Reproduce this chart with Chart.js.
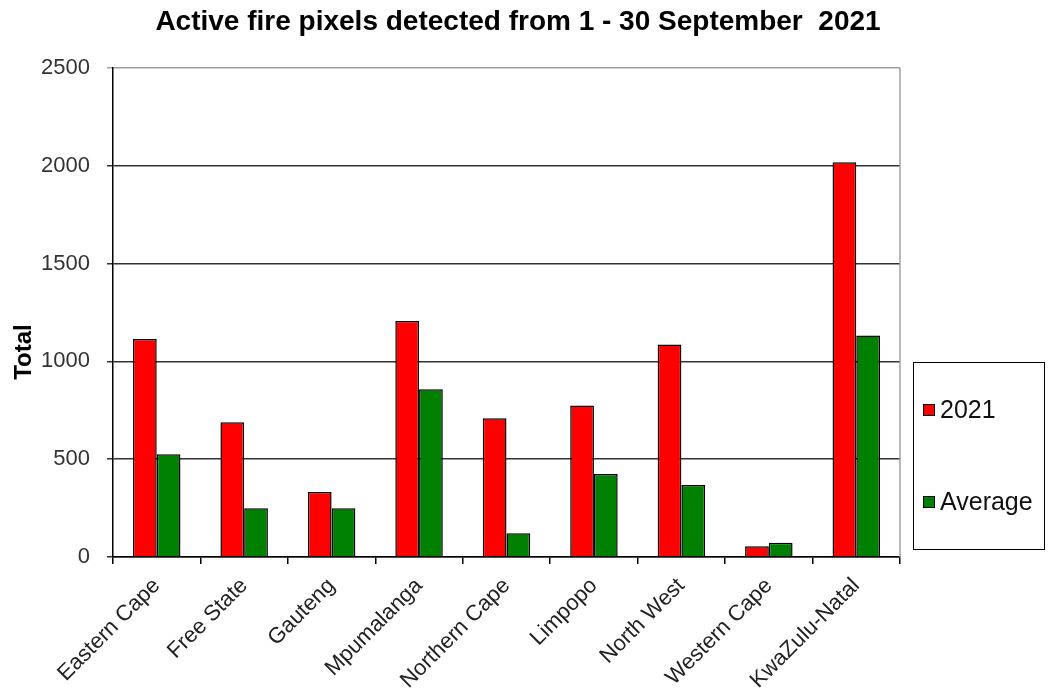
<!DOCTYPE html>
<html>
<head>
<meta charset="utf-8">
<script src="https://cdn.jsdelivr.net/npm/chart.js@4"></script>
<style>
    body { margin: 0; background: #fff; }
    #wrap { width: 1049px; height: 700px; }
</style>
</head>
<body>
<div id="wrap"><canvas id="bar-chart" width="1049" height="700"></canvas></div>
<script>
var provinces = ['Eastern Cape', 'Free State', 'Gauteng', 'Mpumalanga', 'Northern Cape', 'Limpopo', 'North West', 'Western Cape', 'KwaZulu-Natal'];
var values2021 = [1114, 689, 332, 1207, 709, 774, 1087, 55, 2018];
var valuesAverage = [525, 249, 249, 857, 121, 424, 368, 73, 1133];
var yTicks = [0, 500, 1000, 1500, 2000, 2500];

var chartTitle = 'Active fire pixels detected from 1 - 30 September  2021';
var yTitle = 'Total';
var fontFamily = '"Liberation Sans", Arial, sans-serif';

// titolo, titolo asse y e legenda disegnati a mano come nell'originale
var extraText = {
    id: 'extraText',
    afterDraw: function (chart) {
        var ctx = chart.ctx;
        var area = chart.chartArea;
        ctx.save();
        // bordo grigio a destra dell'area del grafico
        ctx.strokeStyle = '#a0a0a0';
        ctx.lineWidth = 1.5;
        ctx.beginPath();
        ctx.moveTo(area.right, area.top);
        ctx.lineTo(area.right, area.bottom);
        ctx.stroke();

        // titolo
        ctx.fillStyle = '#000';
        ctx.font = 'bold 28px ' + fontFamily;
        ctx.textAlign = 'center';
        ctx.textBaseline = 'middle';
        ctx.fillText(chartTitle, 518, 22);

        // titolo asse y
        ctx.save();
        ctx.translate(24, 352);
        ctx.rotate(-Math.PI / 2);
        ctx.font = 'bold 24px ' + fontFamily;
        ctx.fillText(yTitle, 0, 0);
        ctx.restore();

        // legenda
        ctx.textAlign = 'left';
        ctx.strokeStyle = '#000';
        ctx.lineWidth = 1;
        ctx.strokeRect(913.5, 362.5, 131, 187);
        var rows = [410, 502];
        ctx.font = '25px ' + fontFamily;
        chart.data.datasets.forEach(function (ds, i) {
            ctx.fillStyle = ds.backgroundColor;
            ctx.fillRect(923, rows[i] - 6, 12, 12);
            ctx.strokeStyle = '#000';
            ctx.strokeRect(923.5, rows[i] - 5.5, 11, 11);
            ctx.fillStyle = '#111';
            ctx.fillText(ds.label, 940, rows[i] + 1);
        });
        ctx.restore();
    }
};

var ctx = document.getElementById('bar-chart');
var chart = new Chart(ctx, {
    type: 'bar',
    data: {
        labels: provinces,
        datasets: [{
            label: '2021',
            data: values2021,
            backgroundColor: '#ff0000',
            borderColor: '#000',
            borderWidth: 1.5,
            borderSkipped: 'bottom'
        }, {
            label: 'Average',
            data: valuesAverage,
            backgroundColor: '#008000',
            borderColor: '#000',
            borderWidth: 1.5,
            borderSkipped: 'bottom'
        }]
    },
    options: {
        responsive: false,
        animation: false,
        layout: { padding: { left: 0, right: 149, top: 68, bottom: 0 } },
        datasets: { bar: { categoryPercentage: 0.543, barPercentage: 1 } },
        plugins: {
            legend: { display: false },
            tooltip: { enabled: false },
            title: { display: false }
        },
        scales: {
            x: {
                offset: true,
                grid: { display: true, drawOnChartArea: false, offset: true, color: '#000', lineWidth: 1.5, tickLength: 7 },
                border: { color: '#000', width: 1.5 },
                ticks: {
                    minRotation: 45,
                    maxRotation: 45,
                    padding: 9,
                    color: '#222',
                    font: { family: fontFamily, size: 22 }
                },
                afterFit: function (scale) { scale.height = 143; }
            },
            y: {
                min: 0,
                max: 2500,
                afterBuildTicks: function (scale) {
                    scale.ticks = yTicks.map(function (v) { return { value: v }; });
                },
                grid: {
                    color: function (c) { return c.tick && c.tick.value === 2500 ? '#a0a0a0' : '#333'; },
                    lineWidth: 1.5,
                    tickLength: 6
                },
                border: { color: '#000', width: 1.5 },
                ticks: {
                    padding: 17,
                    color: '#333',
                    font: { family: fontFamily, size: 22 },
                    callback: function (v) { return String(v); }
                },
                afterFit: function (scale) { scale.width = 113; }
            }
        }
    },
    plugins: [extraText]
});
</script>
</body>
</html>
